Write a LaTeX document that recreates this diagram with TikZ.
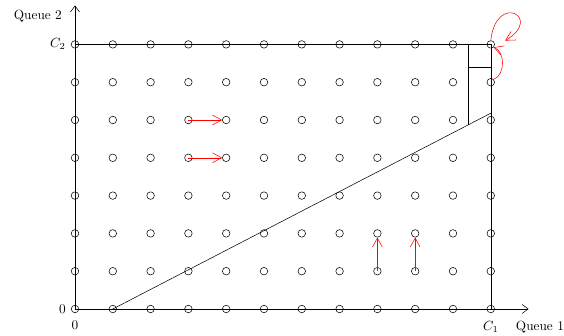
\documentclass[tikz,border=0pt]{standalone}
\usetikzlibrary{arrows.meta}
\begin{document}
\begin{tikzpicture}[x=1cm,y=1cm,
  state/.style={circle,draw,minimum size=0.2cm,inner sep=0pt},
  move/.style={red,-{Straight Barb[length=2.4mm,width=2.6mm]}},
  axis/.style={-{Straight Barb[length=1.6mm,width=2.4mm]}},
  lbl/.style={inner sep=0pt}]
\useasboundingbox (-1.984,-0.688) rectangle (12.937,8.175);
% state lattice
\foreach \i in {0,...,11}
  \foreach \j in {0,...,7}
    \node[state] (p-\i-\j) at (\i,\j) {};
% axes
\coordinate (xend) at (12,0);
\coordinate (yend) at (0,8.03);
\draw[axis] (p-0-0.center) -- (xend);
\draw[axis] (p-0-0.center) -- (yend);
% capacity bounds
\draw (p-0-7.center) -- (p-11-7.center) -- (p-11-0.center);
% switching line and threshold region
\coordinate (d) at (11,5.18);
\draw (p-1-0.center) -- (d);
\path (p-1-0.center) -- (d) coordinate[pos=0.94] (v1);
\coordinate (vt) at (v1 |- p-11-7);
\coordinate (h1) at (v1 |- 0,6.4);
\coordinate (h2) at (11,6.4);
\draw (v1) -- (vt);
\draw (h1) -- (h2);
% transitions
\draw[move] (p-3-5.center) -- (p-4-5);
\draw[move] (p-3-4.center) -- (p-4-4);
\draw[move] (p-8-1.center) -- (p-8-2);
\draw[move] (p-9-1.center) -- (p-9-2);
\draw[move] (p-11-6.north east) to[bend right=70] (p-11-7.south east);
\coordinate (loopend) at (11.38,7.1);
\draw[move] (p-11-7.north) .. controls (11.15,8.4) and (12.4,7.7) .. (loopend);
% labels
\node[lbl,anchor=east] (q2) at (-0.34,7.75) {Queue 2};
\node[lbl,anchor=east] (c2) at (-0.24,7) {$C_2$};
\node[lbl,anchor=east] (z2) at (-0.24,0) {0};
\node[lbl] (z1) at (0,-0.44) {0};
\node[lbl] (c1) at (11,-0.48) {$C_1$};
\node[lbl] (q1) at (12.3,-0.48) {Queue 1};
\end{tikzpicture}
\end{document}
